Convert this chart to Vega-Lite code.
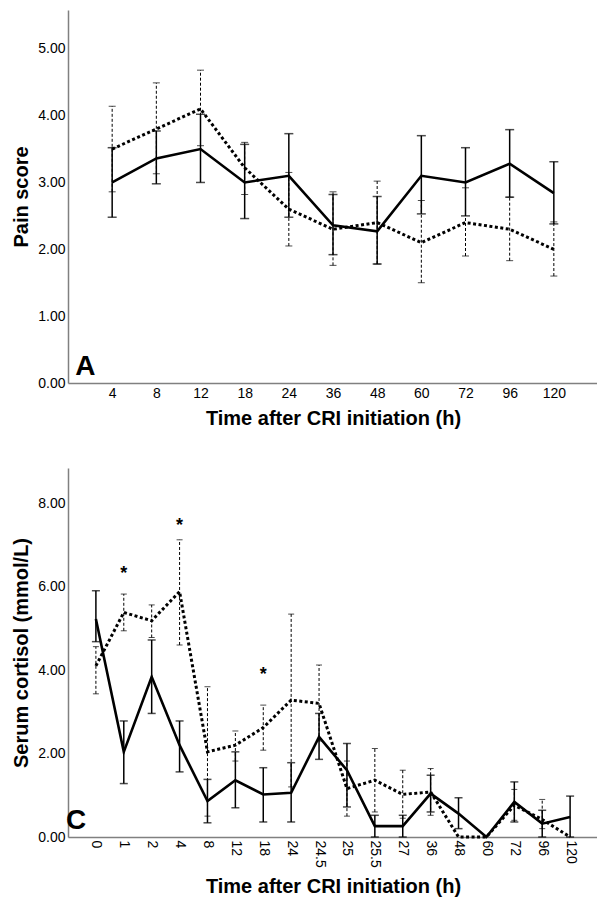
{
  "$schema": "https://vega.github.io/schema/vega-lite/v6.json",
  "padding": {"left": 11, "top": 10, "right": 0, "bottom": 0},
  "spacing": 40,
  "config": {
    "view": {"stroke": null},
    "axis": {
      "labelFont": "Liberation Sans", "labelFontSize": 14, "labelColor": "#000",
      "titleFont": "Liberation Sans", "titleFontSize": 20, "titleFontWeight": "bold", "titleColor": "#000",
      "ticks": false, "grid": false, "domainColor": "#808080", "domainWidth": 1.5, "labelPadding": 3
    }
  },
  "datasets": {
    "pain": [
      {"time": "4", "group": "D", "mean": 3.50, "lo": 2.86, "hi": 4.14},
      {"time": "8", "group": "D", "mean": 3.80, "lo": 3.13, "hi": 4.49},
      {"time": "12", "group": "D", "mean": 4.10, "lo": 3.55, "hi": 4.68},
      {"time": "18", "group": "D", "mean": 3.22, "lo": 2.82, "hi": 3.60},
      {"time": "24", "group": "D", "mean": 2.60, "lo": 2.05, "hi": 3.15},
      {"time": "36", "group": "D", "mean": 2.30, "lo": 1.76, "hi": 2.86},
      {"time": "48", "group": "D", "mean": 2.40, "lo": 1.78, "hi": 3.02},
      {"time": "60", "group": "D", "mean": 2.10, "lo": 1.50, "hi": 2.73},
      {"time": "72", "group": "D", "mean": 2.40, "lo": 1.90, "hi": 2.92},
      {"time": "96", "group": "D", "mean": 2.30, "lo": 1.83, "hi": 2.78},
      {"time": "120", "group": "D", "mean": 2.00, "lo": 1.60, "hi": 2.41},
      {"time": "4", "group": "S", "mean": 3.00, "lo": 2.48, "hi": 3.52},
      {"time": "8", "group": "S", "mean": 3.36, "lo": 2.98, "hi": 3.77},
      {"time": "12", "group": "S", "mean": 3.50, "lo": 3.00, "hi": 4.02},
      {"time": "18", "group": "S", "mean": 3.00, "lo": 2.46, "hi": 3.57},
      {"time": "24", "group": "S", "mean": 3.10, "lo": 2.48, "hi": 3.73},
      {"time": "36", "group": "S", "mean": 2.36, "lo": 1.92, "hi": 2.82},
      {"time": "48", "group": "S", "mean": 2.27, "lo": 1.78, "hi": 2.79},
      {"time": "60", "group": "S", "mean": 3.10, "lo": 2.53, "hi": 3.70},
      {"time": "72", "group": "S", "mean": 3.00, "lo": 2.50, "hi": 3.52},
      {"time": "96", "group": "S", "mean": 3.28, "lo": 2.78, "hi": 3.79},
      {"time": "120", "group": "S", "mean": 2.84, "lo": 2.38, "hi": 3.31}
    ],
    "cortisol": [
      {"time": "0", "group": "D", "mean": 4.10, "lo": 3.43, "hi": 4.56},
      {"time": "1", "group": "D", "mean": 5.38, "lo": 4.94, "hi": 5.82},
      {"time": "2", "group": "D", "mean": 5.18, "lo": 4.78, "hi": 5.56},
      {"time": "4", "group": "D", "mean": 5.88, "lo": 4.60, "hi": 7.12},
      {"time": "8", "group": "D", "mean": 2.04, "lo": 0.50, "hi": 3.60},
      {"time": "12", "group": "D", "mean": 2.20, "lo": 1.82, "hi": 2.54},
      {"time": "18", "group": "D", "mean": 2.62, "lo": 2.08, "hi": 3.16},
      {"time": "24", "group": "D", "mean": 3.28, "lo": 1.20, "hi": 5.34},
      {"time": "24.5", "group": "D", "mean": 3.20, "lo": 2.30, "hi": 4.12},
      {"time": "25", "group": "D", "mean": 1.16, "lo": 0.50, "hi": 1.82},
      {"time": "25.5", "group": "D", "mean": 1.36, "lo": 0.60, "hi": 2.12},
      {"time": "27", "group": "D", "mean": 1.02, "lo": 0.45, "hi": 1.60},
      {"time": "36", "group": "D", "mean": 1.08, "lo": 0.52, "hi": 1.64},
      {"time": "48", "group": "D", "mean": 0.00, "lo": null, "hi": null},
      {"time": "60", "group": "D", "mean": 0.00, "lo": null, "hi": null},
      {"time": "72", "group": "D", "mean": 0.76, "lo": 0.40, "hi": 1.14},
      {"time": "96", "group": "D", "mean": 0.42, "lo": 0.20, "hi": 0.90},
      {"time": "120", "group": "D", "mean": 0.00, "lo": null, "hi": null},
      {"time": "0", "group": "S", "mean": 5.22, "lo": 4.68, "hi": 5.90},
      {"time": "1", "group": "S", "mean": 2.04, "lo": 1.28, "hi": 2.78},
      {"time": "2", "group": "S", "mean": 3.84, "lo": 2.96, "hi": 4.72},
      {"time": "4", "group": "S", "mean": 2.20, "lo": 1.56, "hi": 2.78},
      {"time": "8", "group": "S", "mean": 0.86, "lo": 0.34, "hi": 1.38},
      {"time": "12", "group": "S", "mean": 1.36, "lo": 0.70, "hi": 2.04},
      {"time": "18", "group": "S", "mean": 1.02, "lo": 0.36, "hi": 1.66},
      {"time": "24", "group": "S", "mean": 1.06, "lo": 0.36, "hi": 1.78},
      {"time": "24.5", "group": "S", "mean": 2.40, "lo": 1.86, "hi": 2.96},
      {"time": "25", "group": "S", "mean": 1.60, "lo": 0.72, "hi": 2.24},
      {"time": "25.5", "group": "S", "mean": 0.26, "lo": 0.00, "hi": 0.52},
      {"time": "27", "group": "S", "mean": 0.26, "lo": 0.00, "hi": 0.52},
      {"time": "36", "group": "S", "mean": 1.04, "lo": 0.60, "hi": 1.48},
      {"time": "48", "group": "S", "mean": 0.56, "lo": 0.20, "hi": 0.94},
      {"time": "60", "group": "S", "mean": 0.00, "lo": null, "hi": null},
      {"time": "72", "group": "S", "mean": 0.84, "lo": 0.36, "hi": 1.32},
      {"time": "96", "group": "S", "mean": 0.32, "lo": 0.00, "hi": 0.64},
      {"time": "120", "group": "S", "mean": 0.48, "lo": 0.00, "hi": 0.98}
    ],
    "stars": [
      {"time": "1", "y": 6.41, "label": "*"},
      {"time": "4", "y": 7.58, "label": "*"},
      {"time": "18", "y": 4.0, "label": "*"}
    ],
    "letterA": [{"time": "4", "y": 0, "label": "A"}],
    "letterC": [{"time": "0", "y": 0, "label": "C"}]
  },
  "vconcat": [
    {
      "width": 530, "height": 373,
      "encoding": {
        "x": {"field": "time", "type": "ordinal", "title": "Time after CRI initiation (h)",
              "scale": {"type": "point", "domain": ["4","8","12","18","24","36","48","60","72","96","120"], "padding": 1.06},
              "axis": {"labelAngle": 0, "titlePadding": 8}}
      },
      "layer": [
        {"data": {"name": "pain"}, "transform": [{"filter": "datum.group == 'D'"}],
         "mark": {"type": "line", "color": "#000", "strokeWidth": 3, "strokeDash": [3, 2.5]},
         "encoding": {"y": {"field": "mean", "type": "quantitative", "title": "Pain score",
            "scale": {"domain": [0, 5.58], "nice": false},
            "axis": {"values": [0,1,2,3,4,5], "format": ".2f", "titlePadding": 6}}}},
        {"data": {"name": "pain"}, "transform": [{"filter": "datum.group == 'D'"}],
         "mark": {"type": "rule", "color": "#000", "strokeWidth": 1, "strokeDash": [3, 2]},
         "encoding": {"y": {"field": "lo", "type": "quantitative"}, "y2": {"field": "hi"}}},
        {"data": {"name": "pain"}, "transform": [{"filter": "datum.group == 'D'"}, {"fold": ["lo", "hi"], "as": ["end", "val"]}],
         "mark": {"type": "tick", "color": "#000", "thickness": 1, "size": 7, "strokeDash": [2, 1]},
         "encoding": {"y": {"field": "val", "type": "quantitative"}}},
        {"data": {"name": "pain"}, "transform": [{"filter": "datum.group == 'S'"}],
         "mark": {"type": "rule", "color": "#000", "strokeWidth": 1.5},
         "encoding": {"y": {"field": "lo", "type": "quantitative"}, "y2": {"field": "hi"}}},
        {"data": {"name": "pain"}, "transform": [{"filter": "datum.group == 'S'"}, {"fold": ["lo", "hi"], "as": ["end", "val"]}],
         "mark": {"type": "tick", "color": "#000", "thickness": 1.5, "size": 9},
         "encoding": {"y": {"field": "val", "type": "quantitative"}}},
        {"data": {"name": "pain"}, "transform": [{"filter": "datum.group == 'S'"}],
         "mark": {"type": "line", "color": "#000", "strokeWidth": 2.6},
         "encoding": {"y": {"field": "mean", "type": "quantitative"}}},
        {"data": {"name": "letterA"},
         "mark": {"type": "text", "font": "Liberation Sans", "fontSize": 28, "fontWeight": "bold", "align": "left", "baseline": "alphabetic", "dx": -37, "dy": -8, "color": "#000"},
         "encoding": {"y": {"field": "y", "type": "quantitative"}, "text": {"field": "label"}}}
      ]
    },
    {
      "width": 530, "height": 369,
      "encoding": {
        "x": {"field": "time", "type": "ordinal", "title": "Time after CRI initiation (h)",
              "scale": {"type": "point", "domain": ["0","1","2","4","8","12","18","24","24.5","25","25.5","27","36","48","60","72","96","120"], "padding": 1.44},
              "axis": {"labelAngle": 90, "titlePadding": 9}}
      },
      "layer": [
        {"data": {"name": "cortisol"}, "transform": [{"filter": "datum.group == 'D'"}],
         "mark": {"type": "line", "color": "#000", "strokeWidth": 3, "strokeDash": [3, 2.5]},
         "encoding": {"y": {"field": "mean", "type": "quantitative", "title": "Serum cortisol (mmol/L)",
            "scale": {"domain": [0, 8.84], "nice": false},
            "axis": {"values": [0,2,4,6,8], "format": ".2f", "titlePadding": 6}}}},
        {"data": {"name": "cortisol"}, "transform": [{"filter": "datum.group == 'D' && isValid(datum.lo)"}],
         "mark": {"type": "rule", "color": "#000", "strokeWidth": 1, "strokeDash": [3, 2]},
         "encoding": {"y": {"field": "lo", "type": "quantitative"}, "y2": {"field": "hi"}}},
        {"data": {"name": "cortisol"}, "transform": [{"filter": "datum.group == 'D' && isValid(datum.lo)"}, {"fold": ["lo", "hi"], "as": ["end", "val"]}],
         "mark": {"type": "tick", "color": "#000", "thickness": 1, "size": 6, "strokeDash": [2, 1]},
         "encoding": {"y": {"field": "val", "type": "quantitative"}}},
        {"data": {"name": "cortisol"}, "transform": [{"filter": "datum.group == 'S' && isValid(datum.lo)"}],
         "mark": {"type": "rule", "color": "#000", "strokeWidth": 1.5},
         "encoding": {"y": {"field": "lo", "type": "quantitative"}, "y2": {"field": "hi"}}},
        {"data": {"name": "cortisol"}, "transform": [{"filter": "datum.group == 'S' && isValid(datum.lo)"}, {"fold": ["lo", "hi"], "as": ["end", "val"]}],
         "mark": {"type": "tick", "color": "#000", "thickness": 1.5, "size": 8},
         "encoding": {"y": {"field": "val", "type": "quantitative"}}},
        {"data": {"name": "cortisol"}, "transform": [{"filter": "datum.group == 'S'"}],
         "mark": {"type": "line", "color": "#000", "strokeWidth": 2.6},
         "encoding": {"y": {"field": "mean", "type": "quantitative"}}},
        {"data": {"name": "stars"},
         "mark": {"type": "text", "font": "Liberation Sans", "fontSize": 18, "fontWeight": "bold", "align": "center", "baseline": "middle", "dy": 5, "color": "#000"},
         "encoding": {"y": {"field": "y", "type": "quantitative"}, "text": {"field": "label"}}},
        {"data": {"name": "letterC"},
         "mark": {"type": "text", "font": "Liberation Sans", "fontSize": 28, "fontWeight": "bold", "align": "left", "baseline": "alphabetic", "dx": -30, "dy": -8, "color": "#000"},
         "encoding": {"y": {"field": "y", "type": "quantitative"}, "text": {"field": "label"}}}
      ]
    }
  ]
}
